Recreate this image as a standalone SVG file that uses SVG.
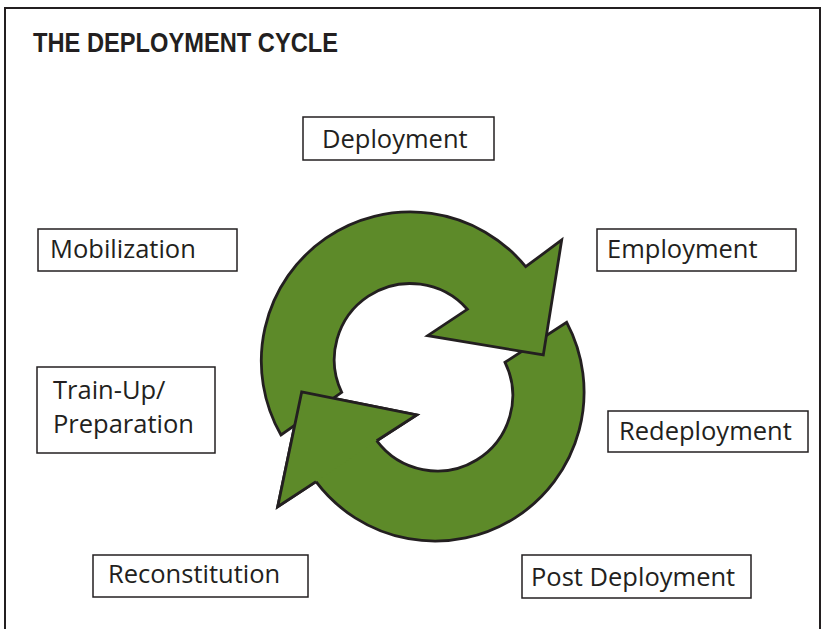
<svg xmlns="http://www.w3.org/2000/svg" width="823" height="629" viewBox="0 0 823 629">
<style>
.box{fill:#fff;stroke:#231f20;stroke-width:1.5}
.lbl{font-family:"Open Sans","Noto Sans","Liberation Sans",sans-serif;font-size:25.5px;fill:#231f20}
.arr{fill:#5d8a29;stroke:#231f20;stroke-width:2.8;stroke-linejoin:miter}
</style>
<rect x="0" y="0" width="823" height="629" fill="#fff"/>
<rect x="5" y="8" width="815" height="640" fill="#fff" stroke="#231f20" stroke-width="2"/>
<text x="33" y="52" font-family="'Liberation Sans Narrow','Liberation Sans',sans-serif" font-weight="bold" font-size="27.5" fill="#231f20" textLength="305" lengthAdjust="spacingAndGlyphs">THE DEPLOYMENT CYCLE</text>

<g id="connectors">
<path class="arr" d="M566.7,322.3 A149,149 0 0 1 316,481.7 L277.7,506.7 L301.7,392 L416.7,415 L376.7,440.7 A75.5,75.5 0 0 0 505,362.3 Z"/>
<path class="arr" d="M281,435 A149,149 0 0 1 525.7,266.7 L561.7,240 L543.3,355 L427.7,335.7 L467.3,309.3 A76,76 0 0 0 341.7,392.3 Z"/>
<polygon points="316,481.7 277.7,506.7 301.7,392 416.7,415 376.7,440.7" fill="#5d8a29"/>
<polyline points="316,481.7 277.7,506.7 301.7,392 416.7,415 376.7,440.7" fill="none" stroke="#231f20" stroke-width="2.8"/>
</g>

<g id="deployment"><rect class="box" x="303" y="117" width="191" height="43"/><text class="lbl" x="322" y="148">Deployment</text></g>
<g id="mobilization"><rect class="box" x="38" y="229" width="199" height="42"/><text class="lbl" x="50" y="258">Mobilization</text></g>
<g id="employment"><rect class="box" x="597" y="229" width="199" height="42"/><text class="lbl" x="607" y="258">Employment</text></g>
<g id="trainup"><rect class="box" x="37" y="367" width="178" height="86"/><text class="lbl" x="53" y="399">Train-Up/</text><text class="lbl" x="53" y="433">Preparation</text></g>
<g id="redeployment"><rect class="box" x="608" y="411" width="200" height="41"/><text class="lbl" x="619" y="440">Redeployment</text></g>
<g id="reconstitution"><rect class="box" x="93" y="555" width="215" height="42"/><text class="lbl" x="108" y="583">Reconstitution</text></g>
<g id="postdeployment"><rect class="box" x="522" y="555" width="229" height="43"/><text class="lbl" x="531" y="586">Post Deployment</text></g>
</svg>
